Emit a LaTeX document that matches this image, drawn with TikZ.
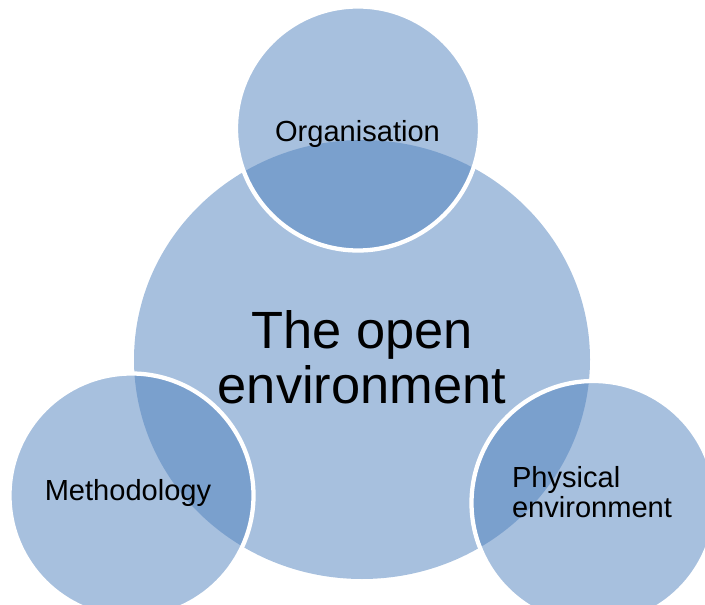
\documentclass[tikz,border=0pt]{standalone}
\usepackage{fontspec}
\setmainfont{Liberation Sans}
\usetikzlibrary{shapes.geometric}
\definecolor{accent}{HTML}{4F81BD}
\tikzset{
  bubble/.style={circle, minimum size=183pt, inner sep=0pt, fill=accent, fill opacity=0.5, draw=white, line width=3.2pt},
  small/.style={font=\fontsize{21.8}{22.5}\selectfont, inner sep=0pt},
}
\begin{document}
\begin{tikzpicture}[x=0.75pt,y=-0.75pt]
\useasboundingbox (0,0) rectangle (705,605);

\node[ellipse, minimum width=342pt, minimum height=329.25pt, inner sep=0pt, fill=accent, fill opacity=0.5] (env) at (362,359.5) {};

\node[bubble] (org) at (358,128.5) {};
\node[bubble] (meth) at (131.5,495.5) {};
\node[bubble] (phys) at (593.5,503) {};

\node[align=center, inner sep=0pt, font=\fontsize{39.3}{41.25}\selectfont] (envtext) at (362,357) {The open\\environment};
\node[small, anchor=base] (orgtext) at (357.5,142) {Organisation};
\node[small, anchor=base] (methtext) at (128,500) {Methodology};
\node[small, align=left] (phystext) at (592,492.5) {Physical\\environment};

\end{tikzpicture}
\end{document}
